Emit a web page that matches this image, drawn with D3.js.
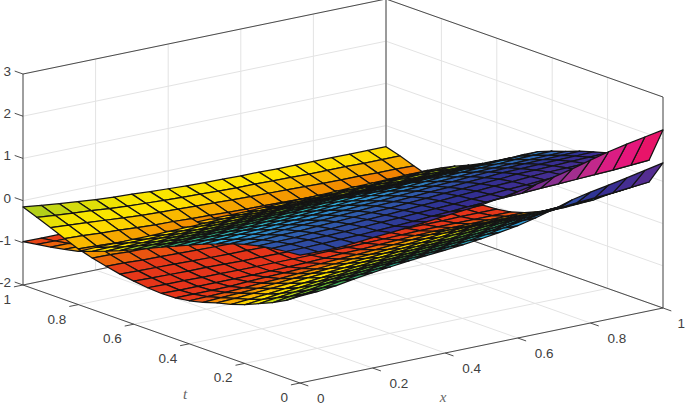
<!DOCTYPE html>
<html>
<head>
<meta charset="utf-8">
<script src="https://cdn.jsdelivr.net/npm/d3@7"></script>
<style>
  html, body { margin: 0; padding: 0; background: #fff; }
  svg { display: block; }
  text { font-family: "Liberation Sans", sans-serif; font-size: 13.5px; fill: #404040; }
  .lab { font-family: "Liberation Serif", serif; font-style: italic; font-size: 15px; fill: #666; }
</style>
</head>
<body>
<script>
var xTicks = [0, 0.2, 0.4, 0.6, 0.8, 1];
var tTicks = [0, 0.2, 0.4, 0.6, 0.8, 1];
var zTicks = [-2, -1, 0, 1, 2, 3];

var xGrid = [0,0.05,0.1,0.15,0.2,0.25,0.3,0.35,0.4,0.45,0.5,0.55,0.6,0.65,0.7,0.75,0.8,0.85,0.9,0.95,1];
var tGrid = [0,0.05,0.1,0.15,0.2,0.25,0.3,0.35,0.4,0.45,0.5,0.55,0.6,0.65,0.7,0.75,0.8,0.85,0.9,0.95,1];

// one row per t value, one column per x value
var lowerSheet = [
  [.06,.08,.13,.20,.26,.31,.36,.40,.44,.48,.53,.59,.66,.76,.88,1.01,1.10,1.18,1.26,1.35,1.44],
  [-.16,-.10,-.04,.03,.09,.14,.19,.23,.27,.31,.36,.42,.49,.57,.64,.69,.73,.76,.79,.83,.87],
  [-.33,-.27,-.21,-.14,-.08,-.03,.02,.06,.10,.14,.19,.24,.30,.37,.44,.49,.53,.56,.59,.62,.66],
  [-.47,-.42,-.37,-.31,-.25,-.20,-.15,-.11,-.07,-.03,.02,.06,.12,.18,.25,.30,.33,.36,.39,.42,.44],
  [-.61,-.57,-.52,-.47,-.42,-.37,-.32,-.28,-.24,-.20,-.15,-.11,-.06,0,.06,.11,.14,.16,.18,.20,.22],
  [-.72,-.69,-.65,-.61,-.57,-.53,-.48,-.44,-.40,-.36,-.32,-.28,-.24,-.18,-.12,-.07,-.05,-.04,-.03,-.03,-.02],
  [-.80,-.78,-.75,-.72,-.69,-.65,-.62,-.59,-.55,-.52,-.48,-.44,-.40,-.35,-.30,-.25,-.24,-.23,-.23,-.22,-.22],
  [-.90,-.88,-.86,-.84,-.81,-.78,-.75,-.72,-.69,-.66,-.63,-.60,-.56,-.52,-.47,-.43,-.43,-.42,-.42,-.42,-.42],
  [-.98,-.97,-.96,-.94,-.92,-.90,-.87,-.85,-.82,-.79,-.77,-.74,-.71,-.67,-.63,-.60,-.60,-.60,-.60,-.60,-.60],
  [-1.03,-1.03,-1.03,-1.02,-1.0,-.98,-.97,-.95,-.93,-.91,-.89,-.87,-.84,-.81,-.78,-.76,-.76,-.76,-.76,-.76,-.76],
  [-1.04,-1.05,-1.05,-1.05,-1.05,-1.05,-1.04,-1.03,-1.02,-1.0,-.98,-.97,-.95,-.93,-.91,-.90,-.90,-.90,-.90,-.90,-.90],
  [-1.02,-1.03,-1.03,-1.04,-1.04,-1.05,-1.05,-1.05,-1.05,-1.05,-1.04,-1.04,-1.03,-1.02,-1.01,-1.0,-1.0,-1.0,-1.0,-1.0,-1.0],
  [-.98,-.99,-1.0,-1.01,-1.01,-1.02,-1.03,-1.03,-1.04,-1.04,-1.05,-1.05,-1.05,-1.06,-1.06,-1.06,-1.06,-1.06,-1.05,-1.05,-1.05],
  [-.93,-.94,-.95,-.96,-.97,-.98,-.99,-.99,-1.0,-1.0,-1.01,-1.02,-1.03,-1.03,-1.04,-1.05,-1.05,-1.06,-1.06,-1.07,-1.07],
  [-.86,-.87,-.89,-.90,-.91,-.92,-.93,-.94,-.94,-.95,-.96,-.97,-.98,-.99,-1.0,-1.02,-1.02,-1.03,-1.04,-1.04,-1.05],
  [-.78,-.79,-.81,-.82,-.84,-.85,-.86,-.87,-.88,-.89,-.90,-.91,-.92,-.94,-.95,-.96,-.97,-.98,-.98,-.99,-1.0],
  [-.68,-.70,-.72,-.74,-.75,-.77,-.78,-.79,-.81,-.82,-.83,-.84,-.85,-.86,-.87,-.88,-.89,-.90,-.90,-.91,-.92],
  [-.55,-.57,-.60,-.62,-.65,-.67,-.68,-.70,-.71,-.73,-.74,-.75,-.76,-.77,-.78,-.79,-.80,-.81,-.81,-.82,-.83],
  [-.41,-.44,-.47,-.50,-.53,-.56,-.58,-.59,-.61,-.62,-.64,-.65,-.66,-.67,-.68,-.69,-.70,-.70,-.71,-.71,-.72],
  [-.28,-.32,-.36,-.39,-.43,-.46,-.48,-.50,-.52,-.53,-.55,-.56,-.56,-.57,-.58,-.59,-.59,-.59,-.60,-.60,-.60],
  [-.15,-.20,-.25,-.29,-.33,-.36,-.38,-.41,-.43,-.45,-.46,-.47,-.48,-.48,-.49,-.49,-.49,-.49,-.50,-.50,-.50]
];

var upperSheet = [
  [1.03,1.02,1.02,1.05,1.09,1.12,1.16,1.20,1.25,1.29,1.33,1.40,1.47,1.55,1.64,1.74,1.86,1.97,2.06,2.14,2.22],
  [1.00,1.00,1.01,1.02,1.03,1.05,1.07,1.09,1.12,1.14,1.17,1.19,1.21,1.23,1.25,1.27,1.29,1.31,1.33,1.36,1.39],
  [.96,.97,.98,.99,1.00,1.02,1.04,1.06,1.08,1.10,1.12,1.15,1.17,1.20,1.22,1.25,1.27,1.28,1.30,1.31,1.33],
  [.90,.91,.92,.94,.95,.97,.99,1.01,1.03,1.06,1.08,1.11,1.13,1.16,1.18,1.21,1.23,1.24,1.25,1.27,1.28],
  [.82,.84,.86,.87,.89,.91,.93,.95,.97,1.00,1.02,1.05,1.07,1.10,1.12,1.15,1.16,1.17,1.19,1.20,1.21],
  [.72,.74,.76,.79,.81,.83,.85,.87,.90,.92,.94,.97,.99,1.02,1.04,1.07,1.08,1.09,1.10,1.11,1.12],
  [.60,.62,.65,.67,.70,.72,.75,.77,.80,.82,.85,.87,.90,.92,.95,.97,.98,.99,1.00,1.01,1.02],
  [.48,.50,.53,.55,.58,.60,.63,.66,.69,.71,.74,.76,.78,.81,.83,.85,.86,.87,.88,.89,.90],
  [.34,.37,.39,.42,.44,.47,.50,.53,.56,.59,.62,.64,.66,.69,.71,.73,.74,.75,.77,.78,.79],
  [.20,.23,.25,.28,.30,.33,.36,.39,.42,.45,.48,.50,.52,.54,.56,.58,.60,.61,.63,.64,.66],
  [.06,.08,.11,.13,.16,.18,.21,.24,.27,.30,.33,.34,.36,.37,.39,.40,.42,.43,.45,.46,.48],
  [-.09,-.07,-.05,-.02,0,.02,.05,.08,.11,.14,.17,.18,.19,.19,.20,.21,.22,.24,.25,.27,.28],
  [-.23,-.21,-.19,-.18,-.16,-.14,-.11,-.08,-.06,-.03,0,.01,.01,.02,.02,.03,.04,.06,.07,.09,.10],
  [-.37,-.35,-.34,-.32,-.31,-.29,-.27,-.24,-.22,-.19,-.17,-.16,-.16,-.15,-.15,-.14,-.13,-.12,-.10,-.09,-.08],
  [-.50,-.49,-.48,-.46,-.45,-.44,-.42,-.40,-.38,-.36,-.34,-.33,-.32,-.32,-.31,-.30,-.29,-.28,-.26,-.25,-.24],
  [-.62,-.61,-.60,-.60,-.59,-.58,-.56,-.55,-.53,-.52,-.50,-.49,-.48,-.47,-.46,-.45,-.44,-.42,-.41,-.39,-.38],
  [-.74,-.73,-.73,-.72,-.72,-.71,-.70,-.69,-.68,-.67,-.66,-.65,-.64,-.63,-.62,-.61,-.60,-.58,-.57,-.55,-.54],
  [-.81,-.81,-.81,-.81,-.81,-.81,-.81,-.81,-.80,-.80,-.80,-.79,-.78,-.78,-.77,-.76,-.75,-.74,-.73,-.72,-.71],
  [-.87,-.87,-.88,-.88,-.89,-.89,-.90,-.91,-.91,-.92,-.93,-.92,-.92,-.91,-.90,-.89,-.89,-.90,-.90,-.90,-.90],
  [-.92,-.93,-.93,-.94,-.94,-.95,-.96,-.97,-.98,-.99,-1.0,-1.0,-1.0,-.99,-.99,-.99,-.99,-1.0,-1.0,-1.0,-1.0],
  [-.97,-.98,-.98,-.99,-.99,-1.0,-1.01,-1.01,-1.02,-1.02,-1.03,-1.03,-1.04,-1.04,-1.05,-1.05,-1.05,-1.05,-1.05,-1.05,-1.05]
];

// hsv colormap, as it looks in the printed figure
var hueStops = [0, .04, .083, .115, .15, .19, .25, .333, .417, .5, .583, .667, .75, .833, .875, .917, .96, 1];
var hueColors = ["#e5321a","#e53a18","#f28a00","#f9b400","#ffe400","#f6e600","#a6cc1e","#4fae3a","#2eaf94","#30b2e6","#2f6fb8","#2f2f92","#5c2c91","#8f2f90","#b52e8e","#d91f85","#e8147a","#e8134f"];

var width = 685, height = 405;

var svg = d3.select("body").append("svg")
    .attr("width", width)
    .attr("height", height);

// the view is a plain oblique projection, one scale per screen direction
var originX = 300, originY = 383;
var xToPx = d3.scaleLinear().domain([0, 1]).range([0, 363]);
var xToPy = d3.scaleLinear().domain([0, 1]).range([0, -75]);
var tToPx = d3.scaleLinear().domain([0, 1]).range([0, -277]);
var tToPy = d3.scaleLinear().domain([0, 1]).range([0, -98]);
var zToPy = d3.scaleLinear().domain([-2, 3]).range([0, -211]);

var hueOf = d3.scaleLinear().domain([-1.07, 2.22]).range([0, 1]);
var colorOf = d3.scaleLinear().domain(hueStops).range(hueColors).clamp(true);

function project(x, t, z) {
    return [originX + xToPx(x) + tToPx(t), originY + xToPy(x) + tToPy(t) + zToPy(z)];
}

// larger = nearer the camera
function depth(x, t, z) {
    return -267 * x - 352 * t + 11.9 * z;
}

var line = d3.line();

function seg(a, b) {
    return line([project(a[0], a[1], a[2]), project(b[0], b[1], b[2])]);
}

var grid = svg.append("g").attr("stroke", "#e3e3e3").attr("stroke-width", 1).attr("fill", "none");

xTicks.forEach(function (x) {
    grid.append("path").attr("d", seg([x, 1, -2], [x, 1, 3]));
    grid.append("path").attr("d", seg([x, 0, -2], [x, 1, -2]));
});
tTicks.forEach(function (t) {
    grid.append("path").attr("d", seg([1, t, -2], [1, t, 3]));
    grid.append("path").attr("d", seg([0, t, -2], [1, t, -2]));
});
zTicks.forEach(function (z) {
    grid.append("path").attr("d", seg([0, 1, z], [1, 1, z]));
    grid.append("path").attr("d", seg([1, 0, z], [1, 1, z]));
});

var box = svg.append("g").attr("stroke", "#3a3a3a").attr("stroke-width", 0.9).attr("fill", "none");

var boxEdges = [
    [[0, 1, -2], [0, 1, 3]],
    [[1, 1, -2], [1, 1, 3]],
    [[1, 0, -2], [1, 0, 3]],
    [[0, 1, 3], [1, 1, 3]],
    [[1, 1, 3], [1, 0, 3]],
    [[0, 1, -2], [1, 1, -2]],
    [[1, 1, -2], [1, 0, -2]],
    [[0, 0, -2], [1, 0, -2]],
    [[0, 0, -2], [0, 1, -2]]
];
boxEdges.forEach(function (e) {
    box.append("path").attr("d", seg(e[0], e[1]));
});

xTicks.forEach(function (x) {
    box.append("path").attr("d", seg([x, 0, -2], [x, -0.03, -2]));
    var p = project(x, 0, -2);
    svg.append("text").attr("x", p[0] + (x == 1 ? 14.5 : 17)).attr("y", p[1] + 20).text(x);
});
tTicks.forEach(function (t) {
    box.append("path").attr("d", seg([0, t, -2], [-0.025, t, -2]));
    var p = project(0, t, -2);
    svg.append("text").attr("x", p[0] - 12).attr("y", p[1] + 19).attr("text-anchor", "end").text(t);
});
zTicks.forEach(function (z) {
    box.append("path").attr("d", seg([0, 1, z], [0, 1.03, z]));
    var p = project(0, 1, z);
    svg.append("text").attr("x", 11).attr("y", p[1] + 2).attr("text-anchor", "end").text(z);
});

svg.append("text").attr("class", "lab").attr("x", 185).attr("y", 399).attr("text-anchor", "middle").text("t");
svg.append("text").attr("class", "lab").attr("x", 443).attr("y", 402).attr("text-anchor", "middle").text("x");

// collect the quads of both sheets and paint them back to front
var quads = [];
[lowerSheet, upperSheet].forEach(function (sheet) {
    for (var i = 0; i < tGrid.length - 1; i++) {
        for (var j = 0; j < xGrid.length - 1; j++) {
            var corners = [
                [xGrid[j], tGrid[i], sheet[i][j]],
                [xGrid[j + 1], tGrid[i], sheet[i][j + 1]],
                [xGrid[j + 1], tGrid[i + 1], sheet[i + 1][j + 1]],
                [xGrid[j], tGrid[i + 1], sheet[i + 1][j]]
            ];
            quads.push({
                corners: corners,
                value: sheet[i][j],
                depth: d3.mean(corners, function (c) { return depth(c[0], c[1], c[2]); })
            });
        }
    }
});
quads.sort(function (a, b) { return a.depth - b.depth; });

svg.append("g").selectAll("path")
    .data(quads)
    .enter().append("path")
    .attr("d", function (d) {
        return line(d.corners.map(function (c) { return project(c[0], c[1], c[2]); })) + "Z";
    })
    .attr("fill", function (d) { return colorOf(hueOf(d.value)); })
    .attr("stroke", "#141414")
    .attr("stroke-width", 1.25)
    .attr("stroke-linejoin", "round");
</script>
</body>
</html>
